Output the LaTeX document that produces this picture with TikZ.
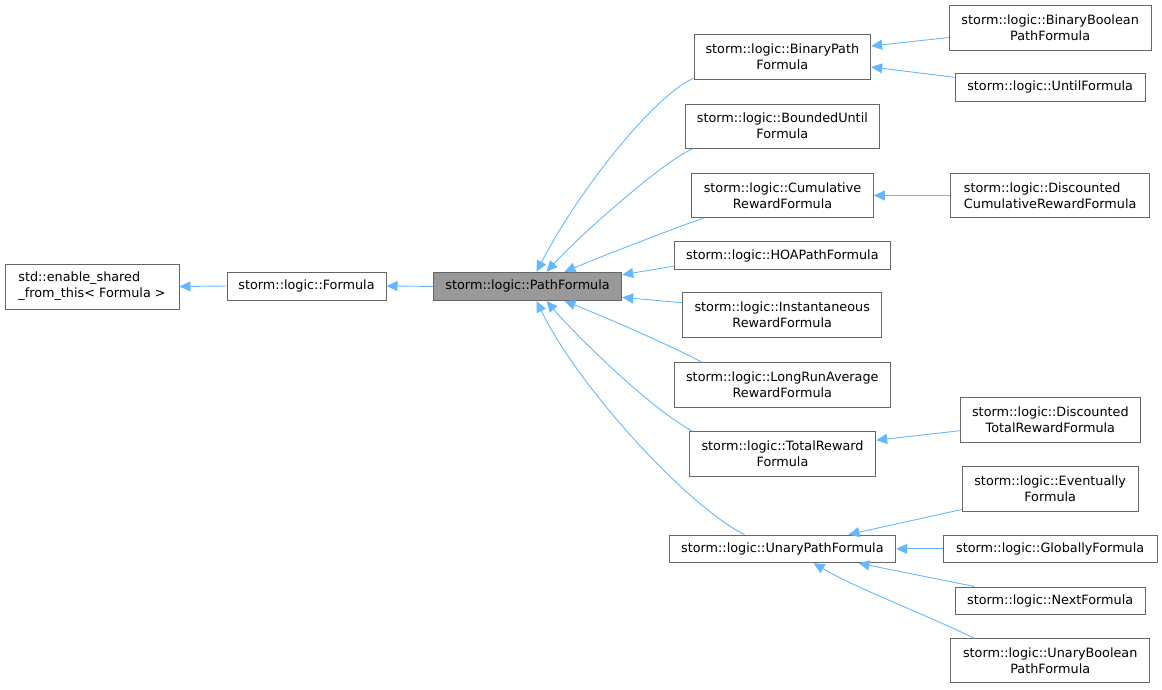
\documentclass[tikz,border=0pt]{standalone}
\usepackage{fontspec}
\setmainfont{DejaVu Sans}
\usetikzlibrary{arrows.meta,calc}
\definecolor{edgeblue}{HTML}{63B8FF}
\definecolor{boxline}{HTML}{666666}
\definecolor{focusfill}{HTML}{999999}
\tikzset{
  cls/.style={draw=boxline, line width=1pt, fill=white, inner sep=0pt, align=center,
    font=\fontsize{12.8}{16}\selectfont, text=black},
  focus/.style={cls, fill=focusfill},
  inh/.style={draw=edgeblue, line width=0.9pt, -{Triangle[length=11pt,width=10pt,fill=edgeblue]}},
}
\newcommand{\clsnode}[7]{% name, x1, y1, x2, y2, style, text
  \node[#6, minimum width={#4-#2}, minimum height={#5-#3}] (#1) at ({(#2+#4)/2},{(#3+#5)/2}) {#7};}
\begin{document}
\begin{tikzpicture}[x=1pt,y=-1pt]
\useasboundingbox (0,0) rectangle (1162,689);
% nodes
\clsnode{A}{5}{264}{179}{309}{cls,align=left}{std::enable\_shared\\\_from\_this< Formula >}
\clsnode{B}{227}{272}{386}{300}{cls}{storm::logic::Formula}
\clsnode{C}{433.5}{272.3}{621.7}{300.5}{focus}{storm::logic::PathFormula}
\clsnode{D}{694}{34.7}{870.7}{79.3}{cls}{storm::logic::BinaryPath\\Formula}
\clsnode{E}{949.3}{5}{1151}{50}{cls}{storm::logic::BinaryBoolean\\PathFormula}
\clsnode{F}{955}{73.3}{1145.3}{101.3}{cls}{storm::logic::UntilFormula}
\clsnode{G}{685}{104}{879.7}{148.3}{cls}{storm::logic::BoundedUntil\\Formula}
\clsnode{H}{691.7}{173.3}{873.3}{217.7}{cls}{storm::logic::Cumulative\\RewardFormula}
\clsnode{I}{950.7}{173.3}{1149.7}{217.7}{cls,align=left}{storm::logic::Discounted\\CumulativeRewardFormula}
\clsnode{J}{674}{241.7}{890.7}{269.7}{cls}{storm::logic::HOAPathFormula}
\clsnode{K}{682.7}{292.7}{881.7}{337.7}{cls}{storm::logic::Instantaneous\\RewardFormula}
\clsnode{L}{674.3}{362.7}{890.3}{407}{cls}{storm::logic::LongRunAverage\\RewardFormula}
\clsnode{M}{689.3}{431.7}{875.7}{476.7}{cls}{storm::logic::TotalReward\\Formula}
\clsnode{N}{960.7}{397.3}{1140}{442}{cls}{storm::logic::Discounted\\TotalRewardFormula}
\clsnode{O}{962.3}{466.7}{1138}{511}{cls}{storm::logic::Eventually\\Formula}
\clsnode{P}{669}{535}{895.7}{562.7}{cls}{storm::logic::UnaryPathFormula}
\clsnode{Q}{943.3}{535}{1157}{562.7}{cls}{storm::logic::GloballyFormula}
\clsnode{R}{955}{587}{1145.3}{614.7}{cls}{storm::logic::NextFormula}
\clsnode{S}{950.7}{638.7}{1149.7}{682.7}{cls}{storm::logic::UnaryBoolean\\PathFormula}
% edges
\draw[inh] (B.west) -- (A.east);
\draw[inh] (C.west) -- (B.east);
\draw[inh] ($(D.south west)+(0,-1.5)$) .. controls (655,95) and (580,188) .. ($(C.north west)+(103.5,0)$);
\draw[inh] ($(G.south west)+(8,0)$) .. controls (665,160) and (580,235) .. ($(C.north west)+(113.5,0)$);
\draw[inh] ($(H.south west)+(12,0)$) .. controls (680,226) and (605,255) .. ($(C.north west)+(131.5,0)$);
\draw[inh] ($(J.south west)+(0,-4)$) -- ($(C.north east)+(0,3)$);
\draw[inh] ($(K.north west)+(0,10.5)$) -- ($(C.east)+(0,11)$);
\draw[inh] ($(L.north west)+(28,0)$) .. controls (670,345) and (600,315) .. ($(C.south west)+(131.5,0)$);
\draw[inh] ($(M.north west)+(4,0)$) .. controls (655,412) and (580,340) .. ($(C.south west)+(113.5,0)$);
\draw[inh] ($(P.north west)+(76,0)$) .. controls (690,508) and (580,390) .. ($(C.south west)+(103.5,0)$);
\draw[inh] ($(E.west)+(0,10)$) -- ($(D.east)+(0,-11)$);
\draw[inh] ($(F.west)+(0,-10)$) -- ($(D.east)+(0,10)$);
\draw[inh] (I.west) -- (H.east);
\draw[inh] ($(N.west)+(0,11)$) -- ($(M.east)+(0,-14)$);
\draw[inh] ($(O.south west)+(0,-2)$) -- ($(P.north west)+(180,0)$);
\draw[inh] (Q.west) -- (P.east);
\draw[inh] ($(R.north west)+(20,0)$) -- ($(P.south west)+(190,0)$);
\draw[inh] ($(S.north west)+(24,0)$) .. controls (920,612) and (860,590) .. ($(P.south west)+(145,0)$);
\end{tikzpicture}
\end{document}
